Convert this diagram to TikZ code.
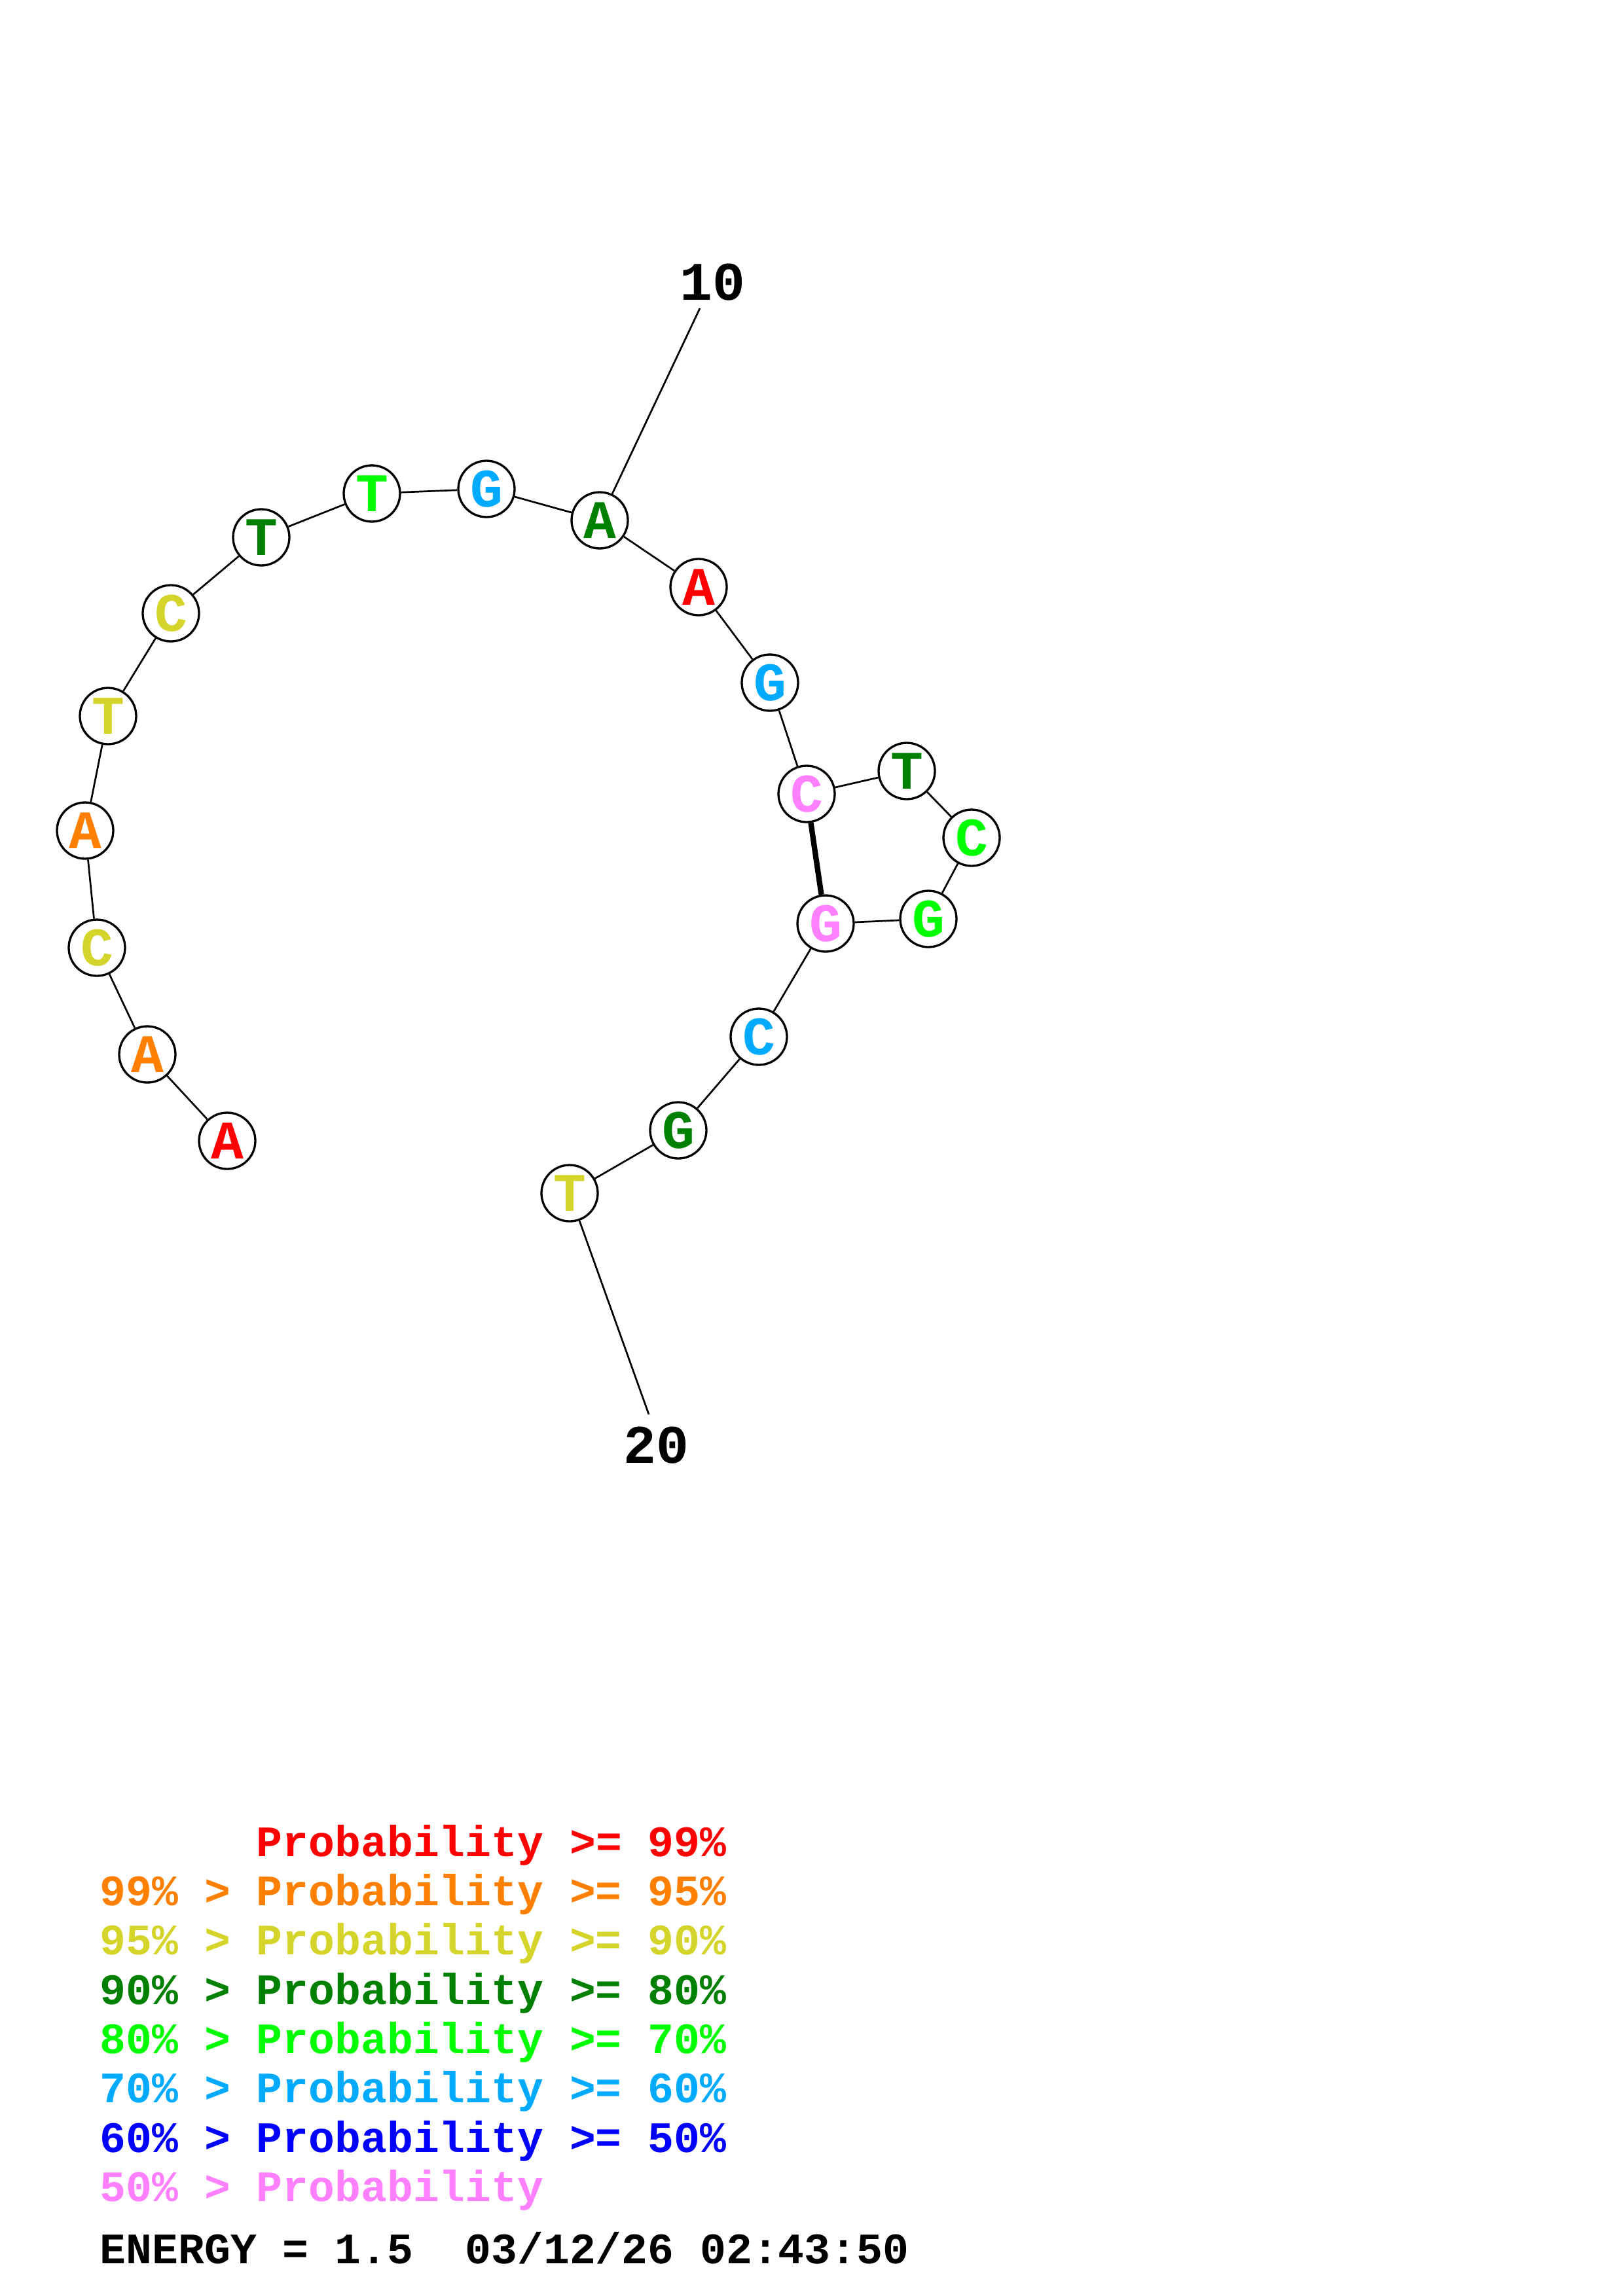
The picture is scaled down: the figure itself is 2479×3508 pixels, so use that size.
\documentclass[tikz,border=0pt]{standalone}
\usepackage{fontspec}
\setmonofont{Liberation Mono}[WordSpace={1,0,0}]
\definecolor{pr99}{RGB}{255,0,0}
\definecolor{pr95}{RGB}{255,128,0}
\definecolor{pr90}{RGB}{212,212,42}
\definecolor{pr80}{RGB}{0,128,0}
\definecolor{pr70}{RGB}{0,255,0}
\definecolor{pr60}{RGB}{0,170,255}
\definecolor{pr50}{RGB}{0,0,255}
\definecolor{prlow}{RGB}{255,128,255}
\tikzset{
  nt/.style={circle,draw=black,line width=0.8pt,fill=white,inner sep=0pt,minimum size=7.28mm,
    font=\fontsize{20}{20}\selectfont\ttfamily\bfseries},
  bb/.style={line width=0.65pt},
  pairline/.style={line width=2pt},
  numlab/.style={inner sep=0pt,font=\fontsize{20}{20}\selectfont\ttfamily\bfseries},
  leg/.style={anchor=base west,inner sep=0pt,font=\fontsize{16}{16}\selectfont\ttfamily\bfseries}
}
\begin{document}
\begin{tikzpicture}[x=0.0846667mm,y=-0.0846667mm]
\useasboundingbox (0,0) rectangle (2479,3508);
\node[nt,text=pr99] (n1) at (347,1743) {A};
\node[nt,text=pr95] (n2) at (225,1611) {A};
\node[nt,text=pr90] (n3) at (148,1448) {C};
\node[nt,text=pr95] (n4) at (130,1269) {A};
\node[nt,text=pr90] (n5) at (165,1094) {T};
\node[nt,text=pr90] (n6) at (261,937) {C};
\node[nt,text=pr80] (n7) at (399,821) {T};
\node[nt,text=pr70] (n8) at (568,754) {T};
\node[nt,text=pr60] (n9) at (743,747) {G};
\node[nt,text=pr80] (n10) at (916,795) {A};
\node[nt,text=pr99] (n11) at (1067,897) {A};
\node[nt,text=pr60] (n12) at (1176,1043) {G};
\node[nt,text=prlow] (n13) at (1232,1213) {C};
\node[nt,text=pr80] (n14) at (1385,1178) {T};
\node[nt,text=pr70] (n15) at (1484,1280) {C};
\node[nt,text=pr70] (n16) at (1418,1404) {G};
\node[nt,text=prlow] (n17) at (1261,1411) {G};
\node[nt,text=pr60] (n18) at (1159,1584) {C};
\node[nt,text=pr80] (n19) at (1036,1727) {G};
\node[nt,text=pr90] (n20) at (870,1823) {T};
\draw[bb] (n1) -- (n2) (n2) -- (n3) (n3) -- (n4) (n4) -- (n5) (n5) -- (n6)
  (n6) -- (n7) (n7) -- (n8) (n8) -- (n9) (n9) -- (n10) (n10) -- (n11)
  (n11) -- (n12) (n12) -- (n13) (n13) -- (n14) (n14) -- (n15) (n15) -- (n16)
  (n16) -- (n17) (n17) -- (n18) (n18) -- (n19) (n19) -- (n20);
\draw[pairline] (n13) -- (n17);
% number labels
\node[numlab] (l10) at (1088,431) {10};
\coordinate (t10) at (1069,471);
\draw[bb] (t10) -- (n10);
\node[numlab] (l20) at (1002,2208) {20};
\coordinate (t20) at (991,2161);
\draw[bb] (n20) -- (t20);
% legend
\node[leg,text=pr99] (g1) at (152,2836) {\phantom{99\% > }Probability >= 99\%};
\node[leg,text=pr95] (g2) at (152,2911) {99\% > Probability >= 95\%};
\node[leg,text=pr90] (g3) at (152,2986) {95\% > Probability >= 90\%};
\node[leg,text=pr80] (g4) at (152,3062) {90\% > Probability >= 80\%};
\node[leg,text=pr70] (g5) at (152,3137) {80\% > Probability >= 70\%};
\node[leg,text=pr60] (g6) at (152,3212) {70\% > Probability >= 60\%};
\node[leg,text=pr50] (g7) at (152,3288) {60\% > Probability >= 50\%};
\node[leg,text=prlow] (g8) at (152,3363) {50\% > Probability};
\node[leg,text=black] (g9) at (152,3458) {ENERGY = 1.5\ \ 03/12/26 02:43:50};
\end{tikzpicture}
\end{document}
